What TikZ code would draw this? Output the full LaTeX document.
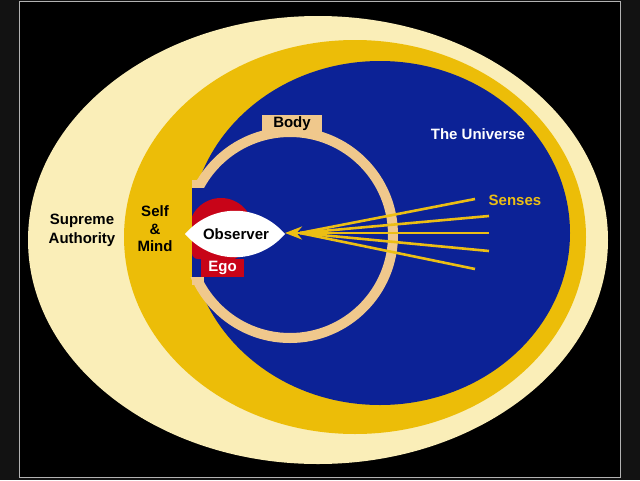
\documentclass[tikz,border=0pt]{standalone}
\usepackage{fontspec}
\setmainfont{Liberation Sans}
\usetikzlibrary{arrows.meta}
\definecolor{cream}{RGB}{250,238,184}
\definecolor{gold}{RGB}{236,189,8}
\definecolor{uniblue}{RGB}{12,34,150}
\definecolor{tanring}{RGB}{240,200,140}
\definecolor{egored}{RGB}{200,4,24}
\definecolor{sensegold}{RGB}{236,190,20}
\begin{document}
\begin{tikzpicture}[x=1pt,y=-1pt,
  lbl/.style={font=\bfseries\fontsize{15}{17.5}\selectfont, align=center, inner sep=0pt},
  sense/.style={draw=sensegold, line width=2.6pt}]
\useasboundingbox (0,0) rectangle (640,480);
\fill[black!93] (0,0) rectangle (640,480);
\fill[black] (19,1) rectangle (620,477);
\draw[gray!60, line width=0.8pt] (19,1) rectangle (620,477);
% nested ellipses
\fill[cream] (318,240) ellipse [x radius=290, y radius=224];
\fill[gold] (355,237) ellipse [x radius=231, y radius=197];
\fill[uniblue] (380,233) ellipse [x radius=190, y radius=172];
% body ring
\draw[tanring, line width=10pt] (290,235) circle (103);
\fill[tanring] (192,180) rectangle (204,189);
\fill[tanring] (192,276) rectangle (204,285);
\fill[gold] (180,188) rectangle (192,277);
\fill[uniblue] (192,188) rectangle (214,277);
\fill[tanring] (262,115) rectangle (322,132);
\node[lbl, text=black] (body) at (292,124) {Body};
% ego
\begin{scope}
  \clip (192,150) rectangle (300,300);
  \fill[egored] (221,230) circle (32);
\end{scope}
\fill[egored, rounded corners=6pt] (192,230) rectangle (214,259);
\node[lbl, fill=egored, text=white, minimum width=43pt, minimum height=18pt] (ego) at (222.5,267.5) {Ego};
% observer
\fill[white] (185,234) .. controls (212,203) and (258,203) .. (285,234)
                       .. controls (258,265) and (212,265) .. (185,234);
\node[lbl, text=black] (obs) at (236,234) {Observer};
% senses
\coordinate (conv) at (300,233);
\coordinate (tip) at (285,233);
\coordinate (s1) at (475,199);
\coordinate (s2) at (489,216);
\coordinate (s3) at (489,233);
\coordinate (s4) at (489,251);
\coordinate (s5) at (475,269);
\foreach \s in {s1,s2,s3,s4,s5} \draw[sense] (\s) -- (conv);
\draw[sense, -{Stealth[length=17pt,width=13pt]}] (conv) -- (tip);
% labels
\node[lbl, text=white] (univ) at (478,134) {The Universe};
\node[lbl, text=sensegold] (senses) at (515,200) {Senses};
\node[lbl, text=black] (self) at (155,229) {Self\\\&\\Mind};
\node[lbl, text=black, font=\bfseries\fontsize{15}{19}\selectfont] (sup) at (82,230) {Supreme\\Authority};
\end{tikzpicture}
\end{document}
